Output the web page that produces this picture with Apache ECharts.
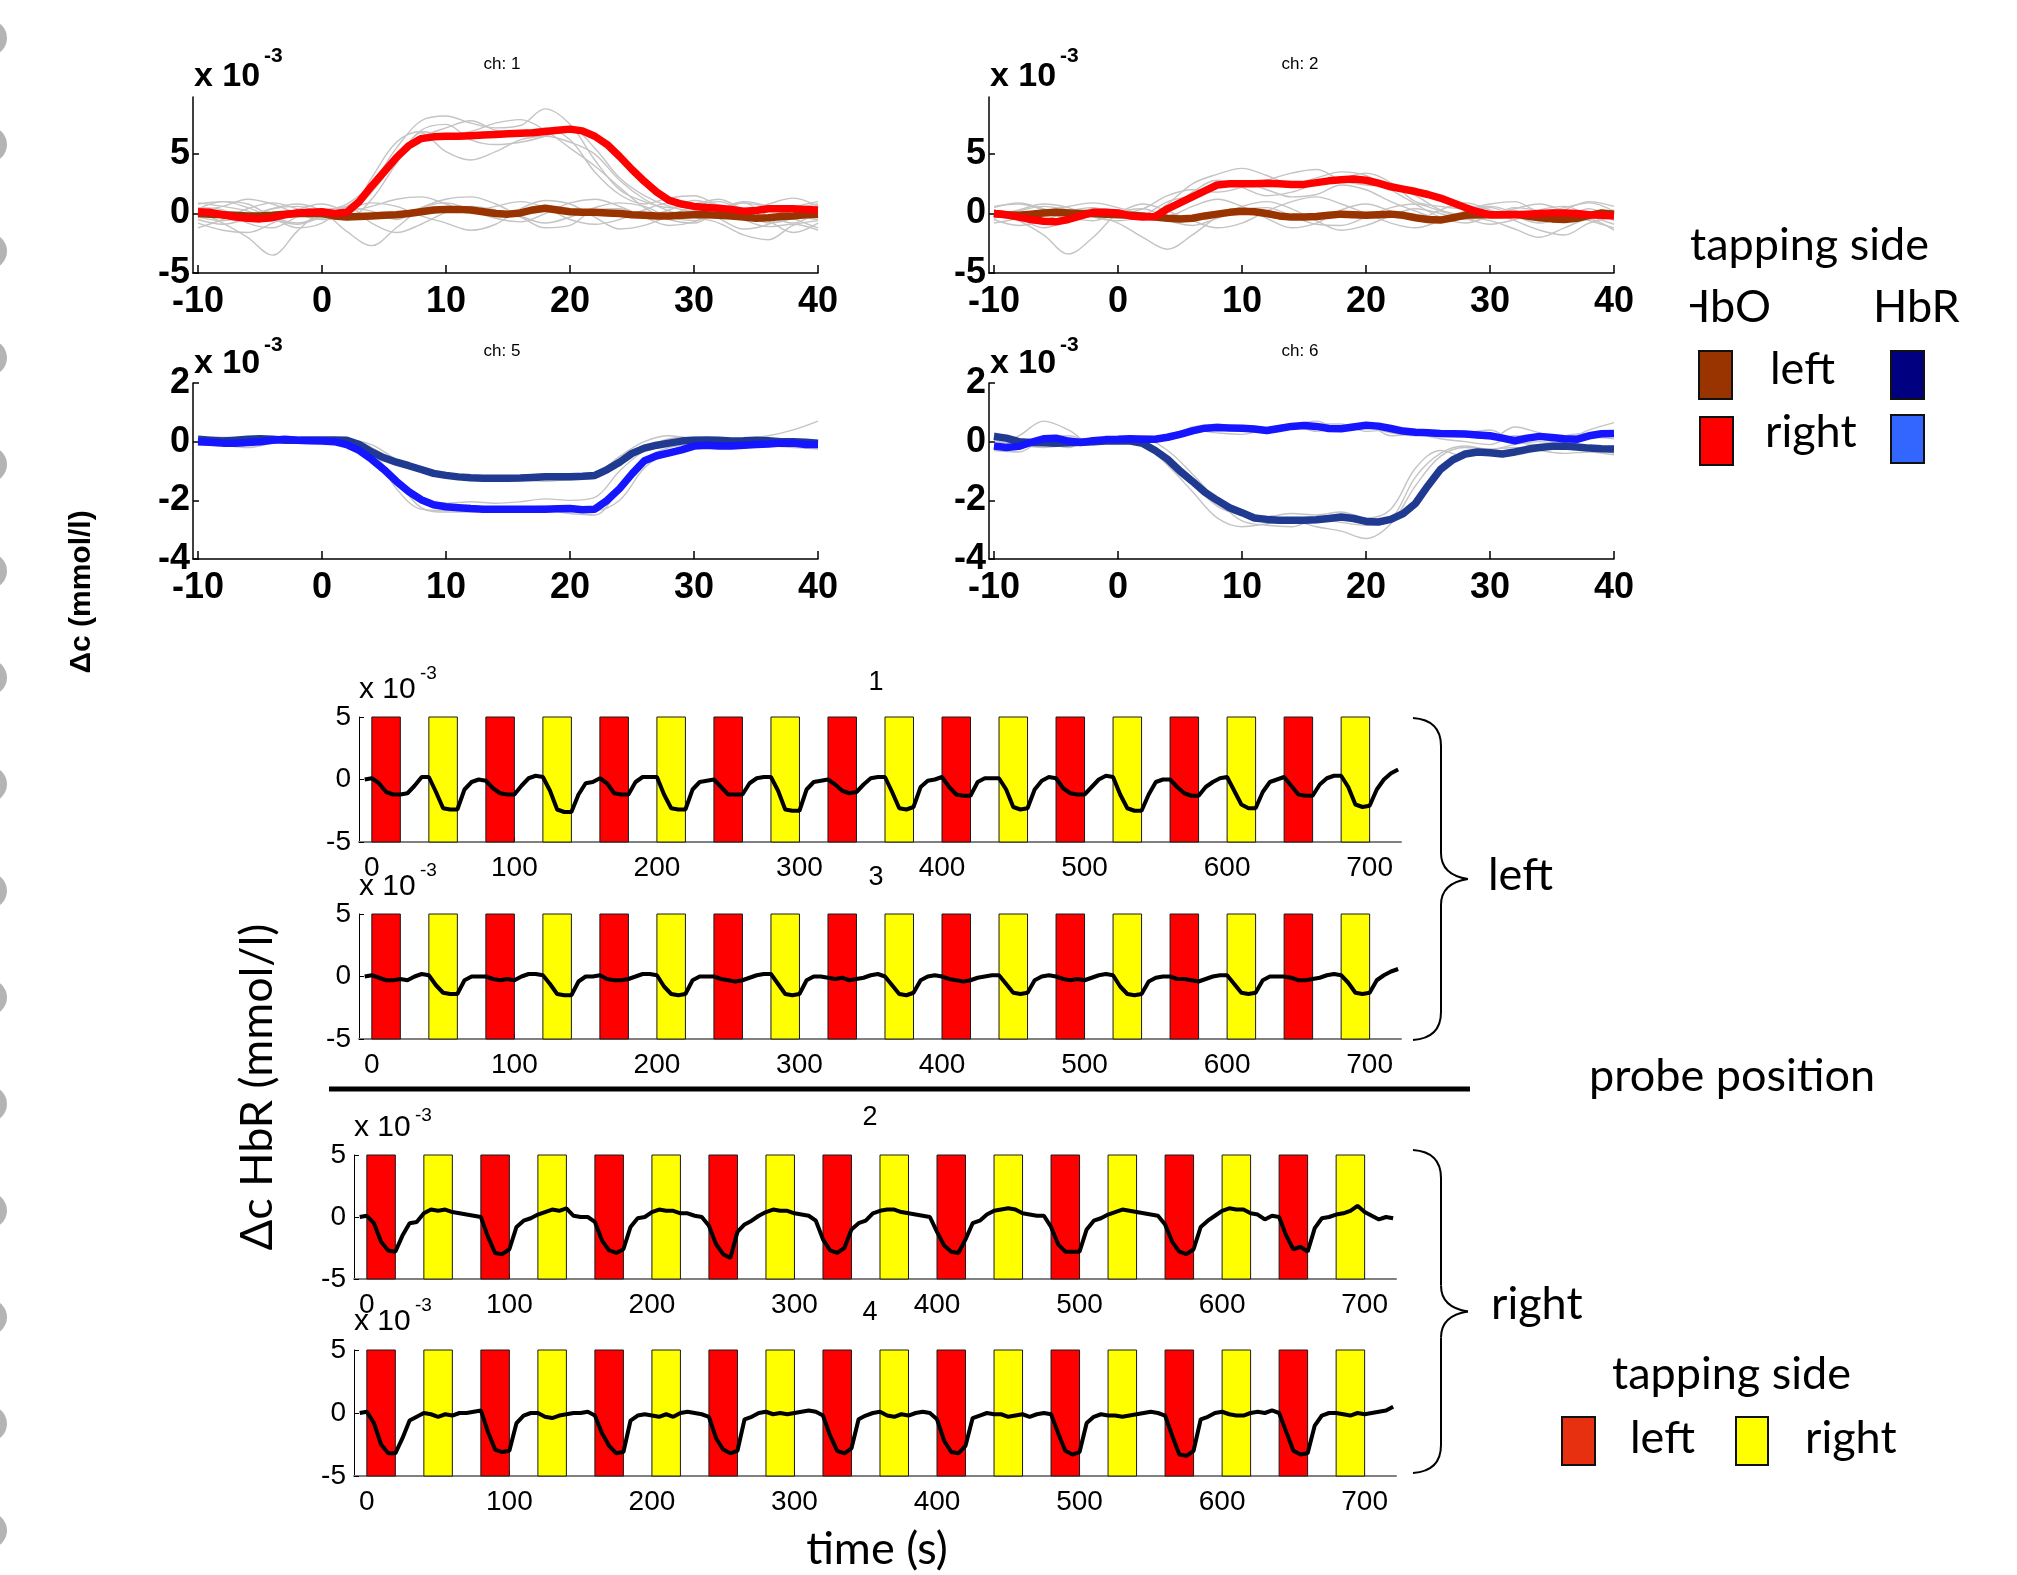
<!DOCTYPE html>
<html><head><meta charset="utf-8">
<script src="https://cdn.jsdelivr.net/npm/echarts@6/dist/echarts.min.js"></script>
<style>html,body{margin:0;padding:0;background:#fff}#c{width:2017px;height:1575px}</style>
</head><body><div id="c"></div>
<script>
// ---------------- DATA ----------------
// Block-averaged responses: 1-s samples from -10 s to 40 s (values x 10^-3 mmol/l)
const avgStart = -10, avgStep = 1;
const ch1HbOright = [0.15,0.1,-0.1,-0.3,-0.4,-0.45,-0.35,-0.1,0.05,0.1,
  0.15,0.0,0.1,1.0,2.3,3.5,4.7,5.7,6.3,6.45,
  6.5,6.5,6.55,6.6,6.65,6.7,6.75,6.8,6.9,7.0,
  7.1,6.95,6.5,5.8,4.8,3.7,2.7,1.8,1.1,0.8,
  0.6,0.5,0.45,0.35,0.2,0.25,0.4,0.4,0.4,0.35,0.3];
const ch1HbOleft = [0,-0.05,-0.1,-0.15,-0.2,-0.2,-0.15,-0.05,0,0,
  0,-0.2,-0.3,-0.25,-0.2,-0.15,-0.1,0.0,0.15,0.3,
  0.35,0.35,0.3,0.15,0.0,-0.05,0.05,0.3,0.45,0.3,
  0.15,0.1,0.1,0.05,0.0,-0.1,-0.15,-0.2,-0.2,-0.15,
  -0.1,-0.1,-0.15,-0.2,-0.3,-0.4,-0.35,-0.25,-0.2,-0.1,-0.05];
const ch2HbOright = [0.0,-0.1,-0.3,-0.5,-0.65,-0.7,-0.5,-0.2,0.1,0.1,
  0.05,-0.2,-0.3,-0.25,0.4,0.9,1.4,1.9,2.4,2.5,
  2.5,2.5,2.55,2.5,2.45,2.45,2.6,2.75,2.85,2.9,
  2.8,2.55,2.25,2.05,1.85,1.6,1.3,0.9,0.5,0.15,
  -0.1,-0.1,-0.1,-0.05,0.0,0.05,0.05,0.0,-0.1,-0.15,-0.2];
const ch2HbOleft = [0.0,-0.1,-0.15,-0.05,0.05,0.1,0.05,0.0,0.0,-0.05,
  -0.1,-0.15,-0.2,-0.3,-0.4,-0.45,-0.4,-0.2,-0.05,0.1,
  0.2,0.15,0.0,-0.2,-0.3,-0.3,-0.25,-0.15,-0.05,-0.1,
  -0.15,-0.1,-0.05,-0.15,-0.35,-0.5,-0.55,-0.35,-0.15,-0.1,
  -0.1,-0.1,-0.05,-0.2,-0.35,-0.45,-0.5,-0.4,-0.15,0.05,-0.05];
const ch5HbRright = [0.0,-0.02,-0.05,-0.05,-0.03,0.0,0.05,0.08,0.05,0.03,
  0.02,0.0,-0.1,-0.3,-0.6,-0.95,-1.35,-1.7,-1.98,-2.15,
  -2.22,-2.25,-2.28,-2.3,-2.3,-2.3,-2.3,-2.3,-2.3,-2.29,
  -2.28,-2.32,-2.3,-2.0,-1.6,-1.1,-0.65,-0.48,-0.38,-0.28,
  -0.15,-0.12,-0.15,-0.15,-0.12,-0.1,-0.08,-0.05,-0.05,-0.1,-0.1];
const ch5HbRleft = [0.08,0.05,0.02,0.05,0.08,0.1,0.08,0.05,0.05,0.06,
  0.06,0.06,0.05,-0.1,-0.35,-0.55,-0.7,-0.82,-0.95,-1.08,
  -1.15,-1.2,-1.23,-1.25,-1.25,-1.25,-1.24,-1.22,-1.2,-1.2,
  -1.2,-1.18,-1.15,-0.95,-0.7,-0.4,-0.22,-0.12,-0.05,0.02,
  0.05,0.06,0.05,0.02,0.03,0.05,0.03,0.0,0.0,-0.02,-0.05];
const ch6HbRright = [-0.15,-0.2,-0.16,-0.02,0.1,0.12,0.02,-0.03,0.03,0.07,
  0.08,0.1,0.08,0.08,0.15,0.25,0.37,0.46,0.48,0.47,
  0.46,0.43,0.38,0.45,0.52,0.55,0.52,0.45,0.44,0.5,
  0.56,0.53,0.45,0.36,0.32,0.3,0.28,0.27,0.26,0.23,
  0.2,0.12,0.03,0.12,0.18,0.14,0.1,0.08,0.2,0.27,0.28];
const ch6HbRleft = [0.18,0.12,0.0,-0.03,-0.04,-0.05,-0.04,-0.02,0.0,0.02,
  0.03,0.02,-0.06,-0.3,-0.6,-1.0,-1.35,-1.72,-2.0,-2.25,
  -2.42,-2.6,-2.65,-2.68,-2.68,-2.68,-2.66,-2.62,-2.57,-2.62,
  -2.72,-2.74,-2.65,-2.45,-2.1,-1.5,-0.95,-0.62,-0.42,-0.35,
  -0.38,-0.42,-0.35,-0.26,-0.2,-0.16,-0.15,-0.18,-0.22,-0.24,-0.25];

// Single subjects / trials (grey): 2-s samples from -10 s to 40 s
const trialStart = -10, trialStep = 2;
const ch1TrialsRight = [
  [0.5,0.3,-0.8,-1.2,-0.3,0.2,0.8,2.5,5.5,7.8,8.2,7.6,7.2,7.4,8.8,7.5,4.5,2.0,1.0,0.5,0.8,1.2,0.3,-0.5,0.5,1.0],
  [-0.3,-0.6,-0.2,0.4,0.6,0.1,-0.4,1.2,4.2,6.8,5.2,4.5,5.2,6.2,6.5,6.0,5.0,2.8,1.2,0.2,-0.3,-0.8,-1.8,-2.2,-1.0,-0.6],
  [0.8,1.0,0.5,-0.3,-0.8,-0.2,0.6,2.0,4.8,6.4,7.2,7.8,7.0,6.8,7.2,6.2,3.5,1.6,0.8,1.3,1.5,0.7,0.2,0.8,1.3,0.6],
  [-0.8,-1.4,-1.6,-0.8,0.3,0.8,0.3,1.8,4.5,7.0,7.5,6.2,5.8,6.0,6.5,7.2,5.5,3.0,1.5,0.6,0.2,0.4,1.0,0.6,-0.4,-1.2],
  [0.2,0.6,1.2,0.8,0.0,-0.5,-0.2,3.0,6.0,6.9,6.6,6.9,7.6,7.9,7.0,5.5,4.0,2.2,0.5,-0.5,-0.8,0.2,0.9,-0.2,-0.8,0.2]];
const ch1TrialsLeft = [
  [0.2,-0.8,-2.0,-3.5,-1.5,0.2,0.5,0.2,-0.5,0.5,1.2,1.4,0.8,-0.2,-0.8,-0.3,0.5,0.9,0.6,-0.3,-0.6,0.2,0.9,0.5,-0.2,-0.5],
  [-0.5,-0.9,-0.4,0.4,0.8,0.2,-1.5,-2.7,-1.2,0.4,0.9,0.3,-0.4,-0.7,0.0,0.9,1.2,0.6,-0.3,-1.0,-0.7,0.2,0.4,-0.6,-1.6,-0.8],
  [0.9,0.6,0.2,-0.5,-0.9,-0.3,0.3,0.9,0.6,-0.2,-0.8,-1.4,-0.9,0.4,1.1,0.8,-0.3,-1.3,-1.0,-0.2,0.6,1.0,0.2,-0.8,-0.4,0.3],
  [-1.2,-0.5,0.4,0.9,0.4,-0.4,0.1,0.6,1.2,1.4,0.8,0.2,0.6,1.0,0.5,-0.5,-0.9,-0.5,0.3,0.9,0.5,-0.4,-1.3,-0.9,0.3,0.8],
  [0.4,1.0,0.8,-0.3,-1.2,-0.8,0.6,-0.8,-1.6,-0.9,0.1,0.6,0.3,-0.3,-1.2,-1.0,0.3,0.4,-0.2,0.3,1.1,0.6,-0.5,-1.1,-0.9,-1.4]];
const ch2TrialsRight = [
  [0.3,-0.4,-1.2,-0.5,0.4,0.2,-0.5,0.8,2.5,3.3,3.8,3.2,2.5,3.0,3.5,3.2,2.0,0.8,-0.3,-0.8,-0.2,0.5,0.2,-0.6,-0.2,0.3],
  [-0.5,-1.0,-0.6,0.2,0.5,0.0,0.4,1.5,2.0,1.8,2.2,2.8,3.4,3.7,2.8,2.4,2.3,1.5,0.3,-0.2,-0.6,-1.3,-2.0,-1.2,-0.5,-1.4],
  [0.6,0.8,0.3,-0.4,-0.2,0.3,-0.3,0.2,1.8,2.8,2.2,1.5,1.8,2.5,2.9,3.4,2.6,1.0,0.6,0.4,0.8,1.0,0.2,0.5,0.9,0.2],
  [-0.2,0.3,0.8,0.5,-0.3,-0.6,-0.2,1.0,1.5,2.2,2.6,2.0,1.4,1.6,2.4,2.0,1.0,0.2,-0.4,0.1,0.5,-0.2,-0.8,-0.3,0.4,-0.6]];
const ch2TrialsLeft = [
  [0.2,-0.6,-1.8,-3.4,-2.0,0.0,0.4,-0.2,0.6,1.2,0.6,-0.4,-1.2,-0.8,0.3,0.8,0.2,-0.5,0.3,0.9,0.3,-0.6,-1.4,-1.8,-0.8,-0.3],
  [-0.4,0.2,0.6,0.3,-0.2,-0.8,-2.0,-3.0,-1.8,-0.3,0.6,1.0,0.4,-0.6,-1.4,-1.0,-0.2,0.4,0.0,-0.5,-0.2,0.4,0.8,0.2,-0.6,-1.2],
  [0.5,0.9,0.4,-0.3,-0.6,0.1,0.8,0.2,-0.6,-1.2,-0.8,0.2,1.0,1.4,0.8,0.0,-0.8,-1.2,-0.6,0.2,0.6,0.1,-0.4,0.3,1.0,0.6],
  [-0.8,-0.4,0.2,0.6,0.9,0.5,-0.1,-0.6,-1.0,-0.4,0.3,0.5,-0.2,-0.9,-1.0,-0.3,0.5,0.8,0.2,-0.4,-0.9,-0.5,0.3,0.6,-0.2,-0.9]];
const ch5TrialsRight = [
  [0.1,0.05,-0.1,0.05,0.1,0.0,-0.1,-0.6,-1.4,-2.05,-2.1,-2.05,-2.1,-2.05,-1.95,-2.0,-1.9,-1.0,-0.3,0.1,0.15,0.05,0.1,0.2,0.4,0.7],
  [-0.1,-0.15,0.0,0.1,0.05,-0.05,-0.05,-0.4,-1.3,-2.25,-2.4,-2.4,-2.35,-2.4,-2.35,-2.45,-2.5,-1.6,-0.6,-0.2,-0.1,-0.2,-0.2,-0.15,-0.2,-0.25],
  [0.05,-0.1,-0.2,-0.05,0.1,0.05,0.0,-0.3,-1.6,-2.3,-2.35,-2.3,-2.3,-2.25,-2.2,-2.3,-2.35,-2.0,-0.9,-0.35,-0.15,-0.2,-0.1,0.0,-0.05,-0.15]];
const ch5TrialsLeft = [
  [0.1,0.15,0.05,0.0,0.05,0.05,0.1,-0.2,-0.7,-0.95,-1.15,-1.3,-1.32,-1.28,-1.35,-1.3,-1.25,-0.7,-0.2,0.0,0.05,0.1,0.1,0.0,0.05,0.0],
  [0.0,-0.05,0.1,0.15,0.0,0.05,0.05,-0.1,-0.6,-0.9,-1.1,-1.15,-1.2,-1.15,-1.1,-1.15,-1.1,-0.5,0.0,0.2,0.1,0.05,0.0,-0.05,-0.1,-0.05]];
const ch6TrialsRight = [
  [-0.1,0.2,0.7,0.4,-0.1,0.1,0.2,0.1,0.35,0.6,0.4,0.3,0.55,0.7,0.4,0.5,0.3,0.2,0.35,0.2,0.1,0.5,0.3,0.1,0.4,0.65],
  [-0.3,-0.35,0.1,0.2,0.0,0.05,-0.05,0.15,0.4,0.3,0.25,0.45,0.6,0.35,0.55,0.6,0.2,0.25,0.1,0.0,-0.1,0.2,0.1,0.0,0.15,0.1],
  [0.05,-0.1,-0.05,-0.2,0.1,0.0,0.05,0.05,0.5,0.55,0.5,0.3,0.5,0.6,0.6,0.35,0.4,0.3,0.2,0.3,0.4,0.0,-0.1,0.2,0.3,0.35]];
const ch6TrialsLeft = [
  [0.1,-0.1,-0.2,-0.1,0.0,0.05,-0.1,-0.8,-1.7,-2.6,-2.9,-2.8,-2.7,-2.9,-3.05,-3.3,-2.8,-1.5,-0.5,-0.2,-0.25,-0.2,-0.3,-0.4,-0.35,-0.45],
  [0.2,0.0,0.05,0.0,-0.05,0.1,0.0,-0.5,-1.4,-2.2,-2.5,-2.55,-2.45,-2.5,-2.4,-2.6,-2.3,-0.9,-0.3,-0.5,-0.3,-0.1,0.0,-0.1,-0.2,-0.3],
  [0.3,0.1,-0.1,-0.15,0.05,0.0,0.1,-0.3,-1.1,-2.0,-2.7,-2.85,-2.9,-2.65,-2.75,-2.85,-2.65,-1.2,-0.4,-0.15,-0.3,-0.45,-0.25,-0.05,-0.2,-0.4]];

// Continuous HbR time series: 5-s samples from -5 s to 720 s
const seriesStart = -5, seriesStep = 5;
const hbrCh1 = [0.0,
  0.1,-0.3,-1.0,-1.2,-1.2,-1.1,-0.5,0.2, 0.2,-1.0,-2.3,-2.4,-2.4,-0.8,-0.2,0.0,
  -0.1,-0.7,-1.1,-1.2,-1.2,-0.5,0.1,0.3, 0.2,-0.9,-2.4,-2.6,-2.6,-1.2,-0.3,-0.2,
  0.1,-0.3,-1.1,-1.2,-1.2,-0.2,0.2,0.2, 0.2,-1.2,-2.3,-2.4,-2.4,-0.8,-0.2,-0.1,
  0.0,-0.6,-1.2,-1.2,-1.2,-0.3,0.1,0.2, 0.2,-0.9,-2.4,-2.5,-2.5,-0.8,-0.2,-0.1,
  0.0,-0.4,-0.9,-1.1,-1.0,-0.4,0.1,0.2, 0.2,-1.0,-2.3,-2.4,-2.2,-0.6,-0.1,0.0,
  0.2,-0.6,-1.2,-1.3,-1.3,-0.2,0.1,0.1, 0.1,-0.8,-2.2,-2.4,-2.3,-0.8,-0.1,0.2,
  0.1,-0.7,-1.1,-1.2,-1.2,-0.6,0.0,0.3, 0.2,-1.2,-2.3,-2.5,-2.5,-1.2,-0.2,0.0,
  0.0,-0.6,-1.1,-1.3,-1.3,-0.6,-0.2,0.1, 0.2,-0.9,-2.0,-2.3,-2.3,-1.0,-0.2,0.0,
  0.2,-0.5,-1.2,-1.3,-1.3,-0.4,0.1,0.3, 0.3,-0.6,-2.0,-2.2,-2.1,-0.8,0.0,0.5,
  0.8];
const hbrCh3 = [0.0,
  0.1,-0.1,-0.3,-0.3,-0.2,-0.3,0.0,0.2, 0.1,-0.7,-1.3,-1.4,-1.4,-0.3,0.0,0.0,
  0.0,-0.2,-0.3,-0.2,-0.3,0.0,0.2,0.2, 0.1,-0.6,-1.4,-1.5,-1.5,-0.4,0.0,0.0,
  0.1,-0.2,-0.3,-0.3,-0.2,0.0,0.2,0.2, 0.1,-0.8,-1.4,-1.5,-1.4,-0.3,0.0,0.0,
  0.0,-0.2,-0.3,-0.4,-0.3,-0.1,0.1,0.2, 0.2,-0.6,-1.4,-1.5,-1.4,-0.3,0.0,0.0,
  -0.1,-0.2,-0.1,-0.3,-0.2,-0.1,0.1,0.2, 0.0,-0.7,-1.4,-1.5,-1.3,-0.3,0.0,0.1,
  0.0,-0.2,-0.3,-0.4,-0.3,-0.1,0.0,0.1, 0.1,-0.6,-1.3,-1.4,-1.3,-0.3,0.0,0.1,
  0.0,-0.2,-0.3,-0.2,-0.3,-0.1,0.1,0.2, 0.1,-0.8,-1.4,-1.5,-1.4,-0.4,-0.1,0.0,
  0.0,-0.2,-0.2,-0.3,-0.4,-0.2,0.0,0.1, 0.1,-0.6,-1.3,-1.4,-1.3,-0.3,0.0,0.0,
  0.0,-0.1,-0.3,-0.3,-0.2,-0.1,0.1,0.2, 0.1,-0.5,-1.3,-1.4,-1.3,-0.3,0.1,0.4,
  0.6];
const hbrCh2 = [0.0,
  0.1,-0.5,-2.0,-2.7,-2.8,-1.5,-0.5,-0.4, 0.3,0.6,0.5,0.6,0.4,0.3,0.2,0.1,
  0.0,-1.6,-2.9,-3.0,-2.6,-0.8,-0.3,-0.1, 0.2,0.4,0.6,0.5,0.7,0.1,0.0,0.0,
  -0.4,-1.9,-2.7,-2.9,-2.6,-0.8,-0.1,0.0, 0.4,0.6,0.5,0.5,0.3,0.3,0.1,0.0,
  -0.7,-2.2,-3.0,-3.3,-1.2,-0.6,-0.3,0.1, 0.4,0.6,0.5,0.5,0.3,0.2,0.1,-0.3,
  -1.8,-2.7,-2.9,-2.5,-1.0,-0.5,-0.3,0.3, 0.5,0.6,0.6,0.4,0.3,0.2,0.1,0.0,
  -1.2,-2.3,-2.8,-2.9,-1.8,-0.5,-0.3,0.2, 0.5,0.6,0.7,0.6,0.3,0.2,0.1,0.1,
  -0.8,-2.2,-2.8,-2.8,-2.8,-1.0,-0.3,-0.1, 0.2,0.4,0.6,0.5,0.4,0.3,0.2,0.1,
  -0.6,-2.0,-2.8,-3.0,-2.6,-0.8,-0.3,0.1, 0.5,0.7,0.6,0.6,0.3,0.2,-0.2,0.1,
  0.0,-1.5,-2.6,-2.4,-2.8,-0.9,-0.1,0.0, 0.2,0.3,0.5,0.9,0.4,0.1,-0.2,0.0,
  -0.1];
const hbrCh4 = [0.0,
  0.1,-0.8,-2.5,-3.2,-3.2,-2.0,-0.6,-0.3, 0.0,-0.1,-0.3,-0.1,-0.2,0.0,0.0,0.1,
  0.2,-1.5,-2.9,-3.1,-3.0,-0.8,-0.2,0.0, 0.0,-0.3,-0.4,-0.2,-0.1,0.0,0.0,0.1,
  -0.2,-1.6,-2.6,-3.2,-3.1,-0.6,-0.2,-0.1, -0.2,-0.3,-0.1,-0.3,0.0,0.1,0.0,-0.1,
  -0.3,-2.0,-2.9,-3.2,-3.0,-0.5,-0.3,0.0, 0.1,-0.1,0.0,-0.1,0.0,0.1,0.2,0.1,
  -0.2,-1.8,-3.0,-3.2,-2.8,-0.5,-0.2,0.0, 0.1,-0.2,-0.3,-0.1,-0.2,0.0,0.1,0.0,
  -0.5,-2.2,-3.1,-3.2,-2.6,-0.4,-0.2,0.0, -0.1,-0.1,-0.3,-0.2,-0.1,-0.3,-0.1,0.0,
  -0.1,-1.6,-3.0,-3.3,-3.1,-0.8,-0.3,-0.1, -0.2,-0.2,-0.3,-0.2,-0.1,0.0,0.1,0.0,
  -0.2,-1.8,-3.3,-3.4,-3.0,-0.5,-0.3,0.0, 0.1,-0.1,-0.2,-0.2,0.0,0.1,0.0,0.2,
  0.0,-1.5,-3.0,-3.3,-3.2,-1.0,-0.2,0.0, 0.0,-0.1,-0.2,0.0,-0.1,0.0,0.1,0.2,
  0.5];

// Tapping blocks (s)
const leftTapOnsets  = [0,80,160,240,320,400,480,560,640];
const rightTapOnsets = [40,120,200,280,360,440,520,600,680];
const blockDuration = 20;

// Tick labels
const topXTicks = [-10,0,10,20,30,40];
const hboYTicks = [-5,0,5];
const hbrYTicks = [-4,-2,0,2];
const botXTicks = [0,100,200,300,400,500,600,700];
const botYTicks = [-5,0,5];

// ---------------- CHART ----------------
const C = {
  hboLeft:'#993300', hboRight:'#ff0000', hbrLeft:'#203a92', hbrRight:'#1515ff',
  trial:'#c4c4c4', legHbrLeft:'#000080', legHbrRight:'#3366ff',
  tapLeft:'#ff0000', tapRight:'#ffff00', legTapLeft:'#e6300f'
};
const SANS = '"Liberation Sans", Arial, sans-serif';
const CAL = 'Lato, "Liberation Sans", sans-serif';

function pts(t0, dt, vals){ return vals.map((v,i)=>[t0+i*dt, v]); }

const grids = [
  {left:193, top:97,  width:625, height:176},
  {left:989, top:97,  width:625, height:176},
  {left:193, top:383, width:625, height:176},
  {left:989, top:383, width:625, height:176},
  {left:359, top:717, width:1042, height:125},
  {left:359, top:914, width:1042, height:125},
  {left:354, top:1155, width:1042, height:124},
  {left:354, top:1350, width:1042, height:126}
];

const xAxes = [], yAxes = [];
for (let i=0;i<4;i++){
  xAxes.push({type:'value', gridIndex:i, min:-10.4, max:40,
    axisLine:{show:true,onZero:false,lineStyle:{color:'#000',width:1.5}},
    axisTick:{show:true,inside:true,length:8,customValues:topXTicks,lineStyle:{color:'#000',width:1.5}},
    axisLabel:{customValues:topXTicks,fontSize:36,fontWeight:'bold',fontFamily:SANS,color:'#000',margin:11},
    splitLine:{show:false}});
  const hbo = i<2;
  yAxes.push({type:'value', gridIndex:i, min: hbo?-5:-4, max: hbo?9.8:2,
    axisLine:{show:true,onZero:false,lineStyle:{color:'#000',width:1.5}},
    axisTick:{show:true,inside:true,length:6,customValues: hbo?hboYTicks:hbrYTicks,lineStyle:{color:'#000',width:1.5}},
    axisLabel:{customValues: hbo?hboYTicks:hbrYTicks,fontSize:36,fontWeight:'bold',fontFamily:SANS,color:'#000',margin:3},
    splitLine:{show:false}});
}
for (let i=4;i<8;i++){
  xAxes.push({type:'value', gridIndex:i, min:-9, max:722,
    axisLine:{show:true,onZero:false,lineStyle:{color:'#808080',width:2}},
    axisTick:{show:true,inside:true,length:5,customValues:botXTicks,lineStyle:{color:'#000'}},
    axisLabel:{customValues:botXTicks,fontSize:28,fontFamily:SANS,color:'#000',margin:12},
    splitLine:{show:false}});
  yAxes.push({type:'value', gridIndex:i, min:-5, max:5,
    axisLine:{show:true,onZero:false,lineStyle:{color:'#000',width:1}},
    axisTick:{show:true,inside:true,length:5,customValues:botYTicks,lineStyle:{color:'#000'}},
    axisLabel:{customValues:botYTicks,fontSize:28,fontFamily:SANS,color:'#000',margin:8},
    splitLine:{show:false}});
}

const series = [];
function line(idx, data, color, width, z, smooth){
  series.push({type:'line', xAxisIndex:idx, yAxisIndex:idx, data, showSymbol:false, symbol:'none',
    smooth: smooth||false, lineStyle:{color, width}, z, silent:true, clip:true});
}
const topPanels = [
  [ch1TrialsLeft, ch1TrialsRight, ch1HbOleft, C.hboLeft, ch1HbOright, C.hboRight],
  [ch2TrialsLeft, ch2TrialsRight, ch2HbOleft, C.hboLeft, ch2HbOright, C.hboRight],
  [ch5TrialsLeft, ch5TrialsRight, ch5HbRleft, C.hbrLeft, ch5HbRright, C.hbrRight],
  [ch6TrialsLeft, ch6TrialsRight, ch6HbRleft, C.hbrLeft, ch6HbRright, C.hbrRight]
];
topPanels.forEach((p, idx)=>{
  p[0].concat(p[1]).forEach(tr=>line(idx, pts(trialStart, trialStep, tr), C.trial, 1.4, 2, 0.35));
  line(idx, pts(avgStart, avgStep, p[2]), p[3], 7.5, 3);
  line(idx, pts(avgStart, avgStep, p[4]), p[5], 7.5, 4);
});

const blocks = leftTapOnsets.map(t=>[t, t+blockDuration, 0]).concat(rightTapOnsets.map(t=>[t, t+blockDuration, 1]));
const bottomSeries = [hbrCh1, hbrCh3, hbrCh2, hbrCh4];
bottomSeries.forEach((vals, k)=>{
  const idx = 4+k;
  series.push({type:'custom', xAxisIndex:idx, yAxisIndex:idx, data:blocks, z:2, silent:true,
    renderItem:function(params, api){
      const p0 = api.coord([api.value(0), 5]);
      const p1 = api.coord([api.value(1), -5]);
      return {type:'rect', shape:{x:p0[0], y:p0[1], width:p1[0]-p0[0], height:p1[1]-p0[1]},
        style:{fill: api.value(2)===0 ? C.tapLeft : C.tapRight, stroke:'#1a1a1a', lineWidth:1}};
    }});
  line(idx, pts(seriesStart, seriesStep, vals), '#000', 4, 5);
});

// ---------- graphic decorations & texts ----------
const G = [];
function T(text, x, baseline, size, o){
  o = o||{};
  const fam = o.fam || SANS;
  const k = (fam===CAL) ? 0.387 : 0.347;
  const el = {type:'text', z:50,
    style:{text, font:(o.bold?'bold ':'')+size+'px '+fam, fill:o.color||'#000',
      align:o.align||'left', verticalAlign:'middle'}};
  if (o.rot){ el.x = x - k*size; el.y = baseline; el.rotation = o.rot; }
  else { el.x = x; el.y = baseline - k*size; }
  G.push(el);
}
function brace(x0, yTop, yBot, xTip){
  const xm = x0 + 28, yc = (yTop+yBot)/2;
  const segs = [
    {type:'bezierCurve', shape:{x1:x0, y1:yTop, cpx1:xm, cpy1:yTop+2, x2:xm, y2:yTop+28}},
    {type:'line', shape:{x1:xm, y1:yTop+28, x2:xm, y2:yc-26}},
    {type:'bezierCurve', shape:{x1:xm, y1:yc-26, cpx1:xm, cpy1:yc-4, x2:xTip, y2:yc}},
    {type:'bezierCurve', shape:{x1:xTip, y1:yc, cpx1:xm, cpy1:yc+4, x2:xm, y2:yc+26}},
    {type:'line', shape:{x1:xm, y1:yc+26, x2:xm, y2:yBot-28}},
    {type:'bezierCurve', shape:{x1:xm, y1:yBot-28, cpx1:xm, cpy1:yBot-2, x2:x0, y2:yBot}}
  ];
  segs.forEach(s=>{ s.z = 50; s.style = {stroke:'#000', lineWidth:2, fill:null}; G.push(s); });
}
// binding holes at the page edge
for (let k=0;k<15;k++) G.push({type:'circle', z:1, shape:{cx:-11, cy:38+106.6*k, r:18}, style:{fill:'#b4b4b4'}});

// scale factors
[[194,88,264,63],[990,88,1060,63],[194,375,264,352],[990,375,1060,352]].forEach(a=>{
  T('x 10', a[0], a[1], 34, {bold:true}); T('-3', a[2], a[3], 21, {bold:true});
});
[[359,700,420,680],[359,897,420,877],[354,1138,415,1122],[354,1332,415,1312]].forEach(a=>{
  T('x 10', a[0], a[1], 30); T('-3', a[2], a[3], 19);
});
// panel titles
T('ch: 1', 502, 70, 17, {align:'center'}); T('ch: 2', 1300, 70, 17, {align:'center'});
T('ch: 5', 502, 357, 17, {align:'center'}); T('ch: 6', 1300, 357, 17, {align:'center'});
T('1', 876, 692, 27, {align:'center'}); T('3', 876, 887, 27, {align:'center'});
T('2', 870, 1127, 27, {align:'center'}); T('4', 870, 1322, 27, {align:'center'});
// axis names
T('Δc (mmol/l)', 92, 592, 30, {bold:true, align:'center', rot:Math.PI/2});
T('Δc HbR (mmol/l)', 275, 1087, 45, {fam:CAL, align:'center', rot:Math.PI/2});
T('time (s)', 877, 1567, 45, {fam:CAL, align:'center'});
// top legend
T('tapping side', 1690, 263, 45, {fam:CAL});
T('HbO', 1676, 325, 45, {fam:CAL});
G.push({type:'rect', z:60, shape:{x:1666, y:290, width:24, height:40}, style:{fill:'#fff'}});
T('HbR', 1873, 325, 45, {fam:CAL});
T('left', 1770, 387, 45, {fam:CAL});
T('right', 1765, 450, 45, {fam:CAL});
[[1699,351,C.hboLeft],[1700,417,C.hboRight],[1891,351,C.legHbrLeft],[1891,415,C.legHbrRight]].forEach(r=>{
  G.push({type:'rect', z:50, shape:{x:r[0], y:r[1], width:33, height:48}, style:{fill:r[2], stroke:'#111', lineWidth:2}});
});
// probe position annotation
G.push({type:'line', z:50, shape:{x1:329, y1:1089, x2:1470, y2:1089}, style:{stroke:'#000', lineWidth:5}});
brace(1413, 718, 1040, 1468);
brace(1413, 1150, 1473, 1468);
T('left', 1488, 893, 45, {fam:CAL});
T('right', 1491, 1322, 45, {fam:CAL});
T('probe position', 1589, 1094, 45, {fam:CAL});
// bottom legend
T('tapping side', 1612, 1392, 45, {fam:CAL});
G.push({type:'rect', z:50, shape:{x:1562, y:1417, width:33, height:48}, style:{fill:C.legTapLeft, stroke:'#111', lineWidth:2}});
G.push({type:'rect', z:50, shape:{x:1736, y:1417, width:32, height:48}, style:{fill:C.tapRight, stroke:'#111', lineWidth:2}});
T('left', 1630, 1456, 45, {fam:CAL});
T('right', 1805, 1456, 45, {fam:CAL});

const chart = echarts.init(document.getElementById('c'), null, {renderer:'canvas', width:2017, height:1575});
chart.setOption({
  animation:false, backgroundColor:'#fff',
  grid: grids, xAxis: xAxes, yAxis: yAxes, series: series, graphic: G
});
</script></body></html>
